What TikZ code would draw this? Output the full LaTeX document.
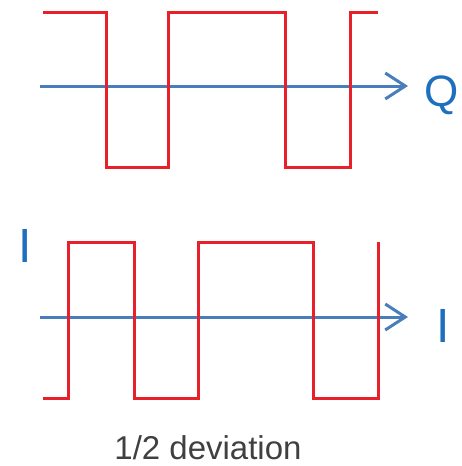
\documentclass[tikz,border=0pt]{standalone}
\usepackage{fontspec}
\setmainfont{Liberation Sans}
\usepackage{tikz}
\usetikzlibrary{arrows.meta}

\definecolor{wavered}{HTML}{E8202A}
\definecolor{axisblue}{HTML}{4A7EBB}
\definecolor{labelblue}{HTML}{1F6FBF}
\definecolor{textgray}{HTML}{404040}

\begin{document}
\begin{tikzpicture}[x=1pt, y=-1pt,
        wave/.style={draw=wavered, line width=3pt, line join=miter},
        axis/.style={draw=axisblue, line width=3pt, -{Straight Barb[length=20pt, width=26pt, line width=3pt]}},
        axislabel/.style={text=labelblue, inner sep=0pt, font=\fontsize{48}{56}\selectfont}]
        \useasboundingbox (0,0) rectangle (462,466);

        % Q axis and its wave
        \coordinate (qstart) at (40,86);
        \coordinate (qend) at (408,86);
        \draw[axis] (qstart) -- (qend);
        \node (qlabel) [axislabel, anchor=base west, font=\fontsize{44}{52}\selectfont] at (424,106) {Q};
        \draw[wave] (43,12) -| (106,167) -| (168,12) -| (285,167) -| (350,12) -- (378,12);

        % I axis and its wave
        \coordinate (istart) at (40,317);
        \coordinate (iend) at (408,317);
        \draw[axis] (istart) -- (iend);
        \node (ilabel) [axislabel, anchor=base west] at (436,342) {I};
        \node (itop) [axislabel, anchor=base west] at (18,262) {I};
        \draw[wave] (43,398) -| (68,242) -| (134,398) -| (198,242) -| (313,398) -| (378,242);

        \node (caption) [anchor=base, inner sep=0pt, text=textgray, font=\fontsize{33}{40}\selectfont] at (208,459) {1/2 deviation};
    \end{tikzpicture}
\end{document}
